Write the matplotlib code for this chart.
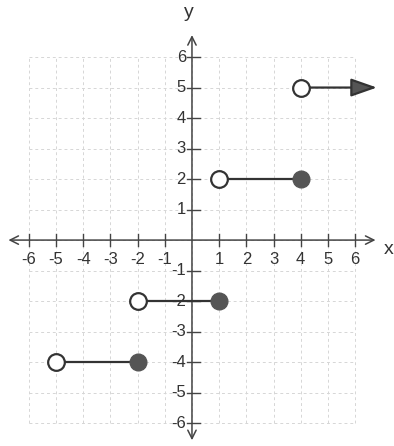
import matplotlib
matplotlib.use("Agg")
import numpy as np
import matplotlib.pyplot as plt

plt.rcParams['font.family'] = ['Liberation Sans', 'DejaVu Sans']

# step pieces: open end (left) -> closed end (right)
seg_x0 = [-5, -2, 1]
seg_x1 = [-2, 1, 4]
seg_y = [-4, -2, 2]
# last piece goes on to the right
ray_x0 = 4
ray_y = 5
ray_end = 6.8

ticks = [-6, -5, -4, -3, -2, -1, 1, 2, 3, 4, 5, 6]
grid_vals = np.arange(-6, 7)

line_col = '#333333'
fill_col = '#555555'

fig = plt.figure(figsize=(3.94, 4.46), dpi=100)
ax = fig.add_axes([0, 0, 1, 1])
ax.set_xlim(-7.06, 7.43)
ax.set_ylim(-6.75, 7.87)
ax.axis('off')

# dashed grid
for g in grid_vals:
    ax.plot([g, g], [-6, 6], color='#d6d6d6', lw=0.7, ls=(0, (3, 3)), zorder=0)
    ax.plot([-6, 6], [g, g], color='#d6d6d6', lw=0.7, ls=(0, (3, 3)), zorder=0)

# axes with arrows
ax.annotate('', xy=(6.75, 0), xytext=(-6.75, 0),
            arrowprops=dict(arrowstyle='<->', color='#444444', lw=1.1,
                            shrinkA=0, shrinkB=0, mutation_scale=15))
ax.annotate('', xy=(0, 6.72), xytext=(0, -6.56),
            arrowprops=dict(arrowstyle='<->', color='#444444', lw=1.1,
                            shrinkA=0, shrinkB=0, mutation_scale=15))

# ticks and labels
for t in ticks:
    ax.plot([t, t], [-0.2, 0.2], color='#444444', lw=1.0)
    ax.text(t, -0.38, str(t), ha='center', va='top', fontsize=12, color='#333333')
    ax.plot([-0.18, 0.3], [t, t], color='#444444', lw=1.0)
    ax.text(-0.22, t, str(t), ha='right', va='center', fontsize=12, color='#333333')

ax.text(7.25, -0.3, 'x', ha='center', va='center', fontsize=14, color='#333333')
ax.text(-0.1, 7.45, 'y', ha='center', va='center', fontsize=14, color='#333333')

# step segments
for x0, x1, y in zip(seg_x0, seg_x1, seg_y):
    ax.plot([x0, x1], [y, y], color=line_col, lw=1.6, zorder=3)
    ax.plot(x0, y, 'o', ms=12, mfc='white', mec=line_col, mew=1.6, zorder=4)
    ax.plot(x1, y, 'o', ms=12, mfc=fill_col, mec=fill_col, mew=1.0, zorder=4)

# ray with arrow
ax.annotate('', xy=(ray_end, ray_y), xytext=(ray_x0, ray_y),
            arrowprops=dict(arrowstyle='-|>,head_length=0.57,head_width=0.2',
                            color=line_col, lw=1.6, fc=fill_col,
                            shrinkA=0, shrinkB=0, mutation_scale=28),
            zorder=3)
ax.plot(ray_x0, ray_y, 'o', ms=12, mfc='white', mec=line_col, mew=1.6, zorder=4)

fig.savefig('out.png', dpi=100)
